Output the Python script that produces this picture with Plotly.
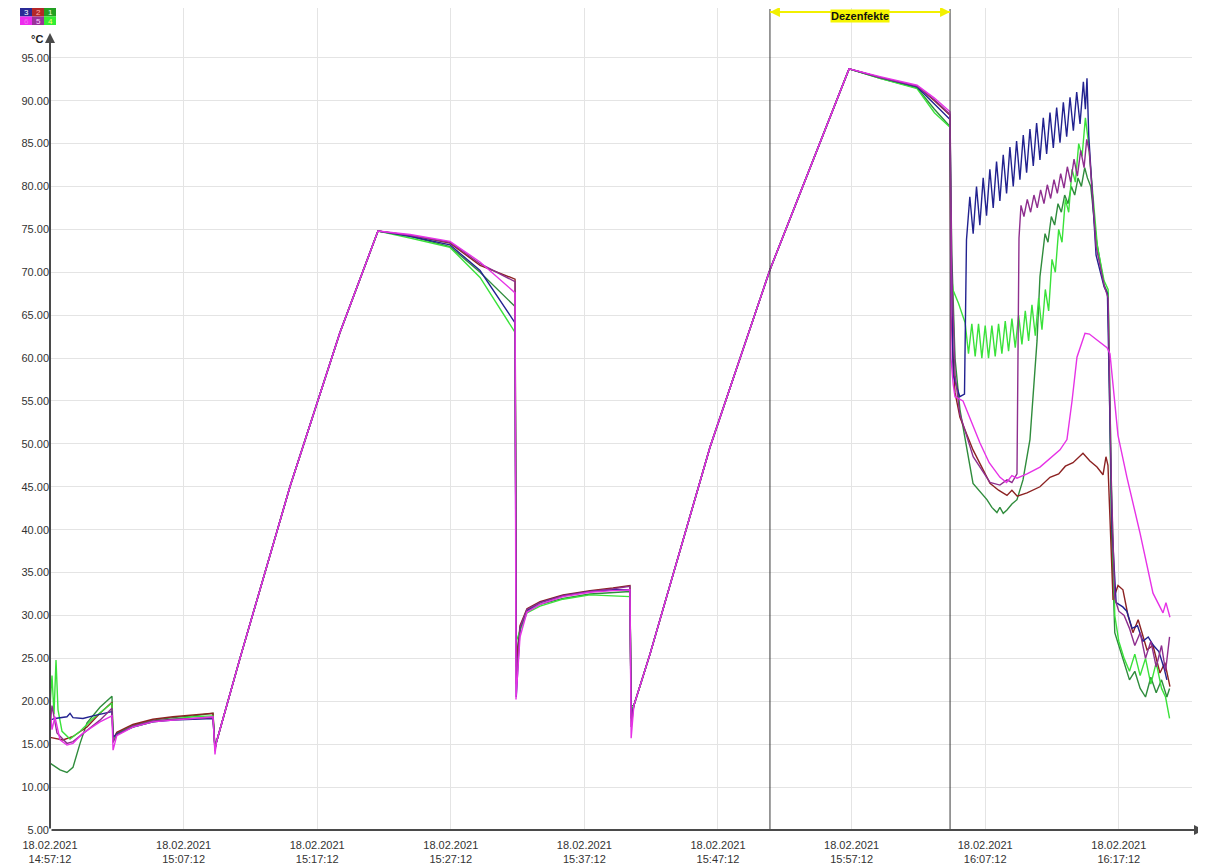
import pandas as pd
import plotly.graph_objects as go

BASE = "2021-02-18 14:57:12"

TICK_MINUTES = [0, 10, 20, 30, 40, 50, 60, 70, 80]
TICK_LABELS = ["18.02.2021<br>14:57:12", "18.02.2021<br>15:07:12", "18.02.2021<br>15:17:12",
               "18.02.2021<br>15:27:12", "18.02.2021<br>15:37:12", "18.02.2021<br>15:47:12",
               "18.02.2021<br>15:57:12", "18.02.2021<br>16:07:12", "18.02.2021<br>16:17:12"]
Y_TICKS = [5, 10, 15, 20, 25, 30, 35, 40, 45, 50, 55, 60, 65, 70, 75, 80, 85, 90, 95]

DISINFECT_START = 53.89
DISINFECT_END = 67.37
DISINFECT_LABEL = "Dezenfekte"

# (minutes after 14:57:12, °C)
RAMP1 = [(12.45, 15.2), (14.22, 25.0), (17.96, 45.0), (21.71, 63.0), (24.55, 74.8)]
RAMP2 = [(43.7, 19.5), (44.91, 25.5), (49.4, 49.6), (53.89, 70.3), (56.89, 82.1), (59.81, 93.7)]

# Sensor 1 (dark green)
S1_A = [(0, 12.8), (0.75, 12.0), (1.27, 11.7), (1.72, 12.3), (2.25, 15.1), (2.77, 17.5), (3.74, 19.3),
        (4.64, 20.6), (4.72, 15.5), (5.0, 16.3), (6.2, 17.2), (7.7, 17.8), (9.2, 18.1), (10.7, 18.3),
        (12.2, 18.6), (12.35, 14.5)]
S1_B = [(26.95, 74.2), (29.94, 73.0), (32.19, 70.0), (34.81, 66.0), (34.9, 25.0), (35.18, 28.5),
        (35.7, 30.5), (36.68, 31.3), (38.4, 32.0), (40.42, 32.5), (42.14, 32.7), (43.41, 32.8), (43.5, 19.5)]
S1_C = [(62.13, 92.6), (64.9, 91.5), (66.2, 89.0), (67.37, 87.0), (67.5, 72.0), (67.74, 60.0), (68.11, 54.0),
        (69.09, 45.4), (70.13, 43.5), (70.5, 42.6), (70.88, 42.0), (71.1, 42.6), (71.35, 41.9), (71.63, 42.3),
        (72.0, 43.0), (72.38, 43.5), (72.83, 45.8), (73.35, 50.5), (73.88, 62.0), (74.1, 69.5), (74.48, 74.5),
        (74.7, 73.5), (74.95, 76.5), (75.2, 75.5), (75.45, 78.0), (75.7, 77.0), (75.95, 79.0), (76.2, 78.0),
        (76.45, 80.0), (76.7, 79.0), (76.95, 81.0), (77.2, 80.0), (77.45, 82.2), (77.65, 81.0), (77.9, 80.0),
        (78.3, 74.0), (78.9, 68.5), (79.2, 67.5), (79.45, 40.0), (79.7, 28.0), (80.0, 26.5), (80.4, 24.5),
        (80.8, 22.5), (81.2, 23.5), (81.6, 21.5), (82.0, 20.5), (82.4, 22.8), (82.8, 21.0), (83.2, 22.5),
        (83.6, 20.5), (83.8, 21.5)]

# Sensor 2 (dark red)
S2_A = [(0, 15.8), (0.97, 15.5), (1.72, 15.9), (2.77, 17.0), (3.74, 18.6), (4.64, 19.9), (4.72, 15.5),
        (5.0, 16.4), (6.2, 17.3), (7.7, 17.9), (9.2, 18.2), (10.7, 18.4), (12.2, 18.6), (12.35, 14.5)]
S2_B = [(26.95, 74.3), (29.94, 73.4), (32.19, 70.8), (34.81, 69.2), (34.9, 24.0), (35.18, 28.8),
        (35.7, 30.8), (36.68, 31.6), (38.4, 32.4), (40.42, 32.9), (42.14, 33.2), (43.41, 33.5), (43.5, 18.0)]
S2_C = [(62.13, 92.7), (64.9, 91.7), (66.2, 90.0), (67.37, 88.3), (67.44, 65.0), (67.74, 56.0), (68.11, 53.1),
        (69.09, 49.3), (70.36, 45.4), (71.0, 44.6), (71.63, 44.0), (72.0, 44.6), (72.4, 43.9), (73.13, 44.3),
        (74.1, 45.0), (74.85, 46.1), (75.5, 46.5), (76.0, 47.4), (76.57, 47.8), (77.32, 48.9), (77.84, 48.0),
        (78.37, 47.3), (78.82, 46.4), (79.04, 48.5), (79.19, 47.5), (79.42, 38.0), (79.57, 31.8), (79.94, 33.5),
        (80.31, 33.0), (80.69, 30.0), (81.06, 28.0), (81.45, 29.5), (82.11, 26.0), (82.56, 26.5), (83.08, 23.3),
        (83.45, 24.5), (83.83, 21.7)]

# Sensor 3 (navy)
S3_A = [(0, 17.8), (0.37, 18.0), (1.27, 18.2), (1.5, 18.6), (1.72, 18.1), (2.47, 18.0), (3.22, 18.3),
        (4.64, 18.8), (4.72, 15.8), (5.0, 16.2), (6.2, 17.0), (7.7, 17.6), (9.2, 17.8), (10.7, 17.9),
        (12.2, 18.0), (12.35, 14.5)]
S3_B = [(26.95, 74.2), (29.94, 73.2), (32.19, 70.2), (34.81, 64.1), (34.9, 20.5), (35.18, 28.5),
        (35.7, 30.6), (36.68, 31.5), (38.4, 32.3), (40.42, 32.8), (42.14, 33.0), (43.41, 33.0), (43.5, 18.0)]
S3_C = [(62.13, 92.7), (64.9, 91.6), (66.2, 89.6), (67.37, 87.8), (67.44, 75.0), (67.6, 58.0), (68.1, 55.5),
        (68.45, 55.8), (68.6, 73.8), (68.85, 78.8), (69.1, 74.5), (69.35, 80.0), (69.6, 75.5), (69.85, 81.0),
        (70.1, 76.6), (70.35, 82.0), (70.6, 77.5), (70.85, 82.9), (71.1, 78.3), (71.35, 83.7), (71.6, 79.2),
        (71.85, 84.6), (72.1, 80.0), (72.35, 85.3), (72.6, 80.8), (72.85, 86.0), (73.1, 81.6), (73.35, 86.7),
        (73.6, 82.4), (73.85, 87.4), (74.1, 83.1), (74.35, 88.0), (74.6, 83.8), (74.85, 88.6), (75.1, 84.5),
        (75.35, 89.2), (75.6, 85.1), (75.85, 89.8), (76.1, 85.8), (76.35, 90.4), (76.6, 86.5), (76.85, 91.0),
        (77.1, 87.3), (77.35, 92.2), (77.5, 89.0), (77.62, 92.6), (77.75, 86.0), (78.3, 72.0), (78.9, 68.3),
        (79.15, 67.5), (79.5, 40.0), (79.8, 31.5), (80.3, 31.0), (80.6, 30.5), (81.0, 28.5), (81.4, 28.8),
        (81.8, 27.0), (82.2, 27.5), (82.6, 26.5), (83.0, 25.8), (83.4, 23.8), (83.6, 22.5)]

# Sensor 4 (bright green)
S4_A = [(0, 19.5), (0.15, 23.0), (0.3, 18.5), (0.45, 24.8), (0.6, 19.0), (0.9, 16.5), (1.5, 15.6),
        (2.25, 16.5), (3.22, 18.0), (4.64, 19.8), (4.72, 15.5), (5.0, 16.2), (6.2, 17.0), (7.7, 17.6),
        (9.2, 17.9), (10.7, 18.2), (12.2, 18.3), (12.35, 14.5)]
S4_B = [(26.95, 74.0), (29.94, 72.9), (32.19, 69.4), (34.81, 63.0), (34.9, 27.0), (35.18, 28.2),
        (35.7, 30.3), (36.68, 31.1), (38.4, 31.9), (40.42, 32.4), (42.14, 32.3), (43.41, 32.2), (43.5, 19.0)]
S4_C = [(62.13, 92.6), (64.9, 91.4), (66.2, 88.6), (67.37, 86.9), (67.44, 70.0), (67.6, 67.9), (68.0, 66.4),
        (68.5, 64.1), (68.75, 60.5), (69.0, 64.0), (69.25, 60.2), (69.5, 64.0), (69.75, 60.0), (70.0, 63.8),
        (70.25, 60.0), (70.5, 63.8), (70.75, 60.2), (71.0, 64.0), (71.25, 60.5), (71.5, 64.3), (71.75, 60.8),
        (72.0, 64.6), (72.25, 61.2), (72.5, 65.0), (72.75, 61.6), (73.0, 65.5), (73.25, 62.0), (73.5, 66.2),
        (73.75, 62.6), (74.0, 67.0), (74.25, 63.3), (74.5, 68.0), (74.75, 65.5), (75.0, 71.5), (75.25, 70.0),
        (75.5, 75.0), (75.75, 73.5), (76.0, 78.5), (76.25, 77.0), (76.5, 82.0), (76.75, 80.5), (77.0, 85.0),
        (77.25, 83.5), (77.5, 88.0), (77.7, 85.5), (78.0, 80.0), (78.4, 73.0), (78.9, 69.0), (79.2, 68.0),
        (79.45, 45.0), (79.7, 30.0), (80.0, 27.0), (80.4, 25.0), (80.8, 23.5), (81.2, 25.5), (81.6, 23.0),
        (82.0, 25.0), (82.4, 22.0), (82.8, 24.5), (83.2, 21.5), (83.5, 20.5), (83.8, 18.0)]

# Sensor 5 (purple)
S5_A = [(0, 17.0), (0.15, 19.5), (0.52, 16.3), (1.27, 15.1), (1.72, 15.3), (2.77, 16.6), (3.74, 17.8),
        (4.64, 19.2), (4.72, 15.2), (5.0, 16.1), (6.2, 17.1), (7.7, 17.7), (9.2, 17.9), (10.7, 18.0),
        (12.2, 18.1), (12.35, 14.2)]
S5_B = [(26.95, 74.3), (29.94, 73.5), (32.19, 71.0), (34.81, 68.9), (34.9, 22.0), (35.18, 28.6),
        (35.7, 30.7), (36.68, 31.5), (38.4, 32.3), (40.42, 32.8), (42.14, 33.1), (43.41, 33.4), (43.5, 17.0)]
S5_C = [(62.13, 92.7), (64.9, 91.7), (66.2, 90.1), (67.37, 88.4), (67.5, 70.0), (67.75, 58.0), (68.1, 53.5),
        (69.1, 48.5), (70.36, 45.5), (71.1, 45.2), (71.63, 45.8), (72.0, 45.5), (72.38, 46.5), (72.53, 74.0),
        (72.68, 77.8), (72.9, 76.5), (73.15, 78.5), (73.4, 77.0), (73.65, 79.0), (73.9, 77.5), (74.15, 79.6),
        (74.4, 78.0), (74.65, 80.2), (74.9, 78.6), (75.15, 80.8), (75.4, 79.2), (75.65, 81.5), (75.9, 79.8),
        (76.15, 82.3), (76.4, 80.5), (76.65, 83.2), (76.9, 81.2), (77.15, 84.2), (77.4, 82.2), (77.6, 85.5),
        (77.8, 84.0), (78.3, 73.0), (78.9, 68.5), (79.2, 67.0), (79.45, 45.0), (79.7, 32.0), (80.0, 30.5),
        (80.4, 30.0), (80.8, 28.5), (81.2, 26.5), (81.6, 28.0), (82.0, 25.0), (82.4, 27.0), (82.8, 24.0),
        (83.2, 26.5), (83.5, 23.5), (83.8, 27.5)]

# Sensor 6 (magenta)
S6_A = [(0, 19.3), (0.15, 16.7), (0.37, 18.2), (0.75, 15.5), (1.27, 14.9), (1.72, 15.1), (2.47, 16.3),
        (3.74, 17.6), (4.64, 18.3), (4.72, 14.3), (5.0, 16.0), (6.2, 17.0), (7.7, 17.6), (9.2, 17.8),
        (10.7, 18.0), (12.2, 18.2), (12.35, 13.8)]
S6_B = [(26.95, 74.4), (29.94, 73.6), (32.19, 71.2), (34.81, 67.6), (34.88, 20.2), (35.18, 27.5),
        (35.7, 30.4), (36.68, 31.3), (38.4, 32.2), (40.42, 32.7), (42.14, 32.9), (43.41, 33.0), (43.5, 15.7)]
S6_C = [(62.13, 92.8), (64.9, 91.8), (66.2, 90.3), (67.37, 88.7), (67.44, 60.0), (67.6, 57.0), (67.74, 55.5),
        (68.34, 55.0), (69.61, 50.1), (70.3, 47.8), (71.11, 46.1), (71.6, 45.5), (72.0, 46.3), (72.38, 46.0),
        (73.13, 46.5), (74.1, 47.3), (75.6, 49.3), (76.12, 50.5), (76.5, 55.0), (76.87, 60.1), (77.47, 62.9),
        (77.8, 62.8), (78.37, 62.1), (79.12, 61.2), (79.34, 60.5), (79.57, 57.0), (79.94, 51.0), (80.61, 46.1),
        (81.59, 39.6), (82.56, 32.6), (83.31, 30.3), (83.53, 31.5), (83.83, 29.8)]

SERIES = [
    ("1", "#2f8c3c", S1_A, S1_B, S1_C),
    ("2", "#8c2222", S2_A, S2_B, S2_C),
    ("4", "#3ae23a", S4_A, S4_B, S4_C),
    ("3", "#222290", S3_A, S3_B, S3_C),
    ("5", "#8e2e8e", S5_A, S5_B, S5_C),
    ("6", "#e632e6", S6_A, S6_B, S6_C),
]

base = pd.Timestamp(BASE)


def to_time(minutes):
    return [base + pd.Timedelta(minutes=m) for m in minutes]


fig = go.Figure()
for name, color, a, b, c in SERIES:
    pts = a + RAMP1 + b + RAMP2 + c
    fig.add_trace(go.Scatter(
        x=to_time([p[0] for p in pts]), y=[p[1] for p in pts],
        mode="lines", name=name, line=dict(color=color, width=1.4),
        hoverinfo="skip"))

# pixel geometry helpers (layout only). The page body adds an 8 px offset.
OFF = 8
W, H = 1206, 866
ML, MR, MT, MB = 42, 22, 0, 44
PW, PH = W - ML - MR, H - MT - MB


def px(xp):
    return (xp - OFF - ML) / PW


def py(yp):
    return (H - MB - (yp - OFF)) / PH


X_END = 85.48
shapes = []
annotations = []

# event markers
for m in (DISINFECT_START, DISINFECT_END):
    shapes.append(dict(type="line", xref="x", yref="paper", x0=base + pd.Timedelta(minutes=m),
                       x1=base + pd.Timedelta(minutes=m), y0=0, y1=py(9),
                       line=dict(color="#3a3a3a", width=1)))
shapes.append(dict(type="line", xref="x", yref="paper",
                   x0=base + pd.Timedelta(minutes=DISINFECT_START), x1=base + pd.Timedelta(minutes=DISINFECT_END),
                   y0=py(12), y1=py(12), line=dict(color="#f2f000", width=2)))
for m, off in ((DISINFECT_START, 40), (DISINFECT_END, -40)):
    annotations.append(dict(x=base + pd.Timedelta(minutes=m), y=py(12), xref="x", yref="paper",
                            ax=off, ay=0, axref="pixel", ayref="pixel", text="", showarrow=True,
                            arrowhead=2, arrowsize=1, arrowwidth=2, arrowcolor="#f2f000"))
annotations.append(dict(x=base + pd.Timedelta(minutes=(DISINFECT_START + DISINFECT_END) / 2), y=py(16),
                        xref="x", yref="paper", text="<b>" + DISINFECT_LABEL + "</b>", showarrow=False,
                        font=dict(size=11, color="#111", family="Liberation Sans, Arial"),
                        bgcolor="#f5f500", borderpad=0, xanchor="center", yanchor="middle"))

# axis lines with arrows
annotations.append(dict(x=0, y=py(33), xref="paper", yref="paper", ax=0, ay=830 - 33,
                        axref="pixel", ayref="pixel", text="", showarrow=True, arrowhead=2,
                        arrowsize=1, arrowwidth=2, arrowcolor="#4a4a4a", standoff=0))
annotations.append(dict(x=px(1204), y=0, xref="paper", yref="paper", ax=-(1204 - 50), ay=0,
                        axref="pixel", ayref="pixel", text="", showarrow=True, arrowhead=2,
                        arrowsize=1, arrowwidth=2, arrowcolor="#4a4a4a", standoff=0))
annotations.append(dict(x=px(37), y=py(39), xref="paper", yref="paper", text="<b>°C</b>",
                        showarrow=False, font=dict(size=11, color="#222"), xanchor="center",
                        yanchor="middle"))

# sensor legend squares
LEGEND_CELLS = [("3", "#2a2a96", "#ffffff", 0, 0), ("2", "#b42828", "#ffb0b0", 1, 0), ("1", "#22a022", "#e8ffe8", 2, 0),
                ("6", "#ee2cee", "#f070f0", 0, 1), ("5", "#9a329a", "#ffd0ff", 1, 1), ("4", "#33ee33", "#ffff80", 2, 1)]
for label, fill, tcol, cx, cy in LEGEND_CELLS:
    x0 = 20 + cx * 12
    y0 = 8 + cy * 8.5
    shapes.append(dict(type="rect", xref="paper", yref="paper", x0=px(x0), x1=px(x0 + 12),
                       y0=py(y0 + 8.5), y1=py(y0), fillcolor=fill, line=dict(width=0)))
    annotations.append(dict(x=px(x0 + 6), y=py(y0 + 4.5), xref="paper", yref="paper", text=label,
                            showarrow=False, font=dict(size=8, color=tcol), xanchor="center",
                            yanchor="middle"))

fig.update_layout(
    width=W, height=H,
    margin=dict(l=ML, r=MR, t=MT, b=MB, autoexpand=False),
    plot_bgcolor="white", paper_bgcolor="white",
    showlegend=False,
    font=dict(family="Liberation Sans, Arial, sans-serif", size=11, color="#333"),
    shapes=shapes, annotations=annotations,
    xaxis=dict(type="date", range=[base, base + pd.Timedelta(minutes=X_END)],
               tickmode="array", tickvals=to_time(TICK_MINUTES), ticktext=TICK_LABELS,
               showgrid=True, gridcolor="#e4e4e4", gridwidth=1, zeroline=False, showline=False,
               ticks="", ticklabelstandoff=7, tickfont=dict(size=11, color="#333"), automargin=False),
    yaxis=dict(range=[5, 100.8], tickmode="array", tickvals=Y_TICKS,
               ticktext=[f"{v:.2f}" for v in Y_TICKS],
               showgrid=True, gridcolor="#e4e4e4", gridwidth=1, zeroline=False, showline=False,
               ticks="", tickfont=dict(size=11, color="#333"), automargin=False),
)

fig.write_html("out.html")
